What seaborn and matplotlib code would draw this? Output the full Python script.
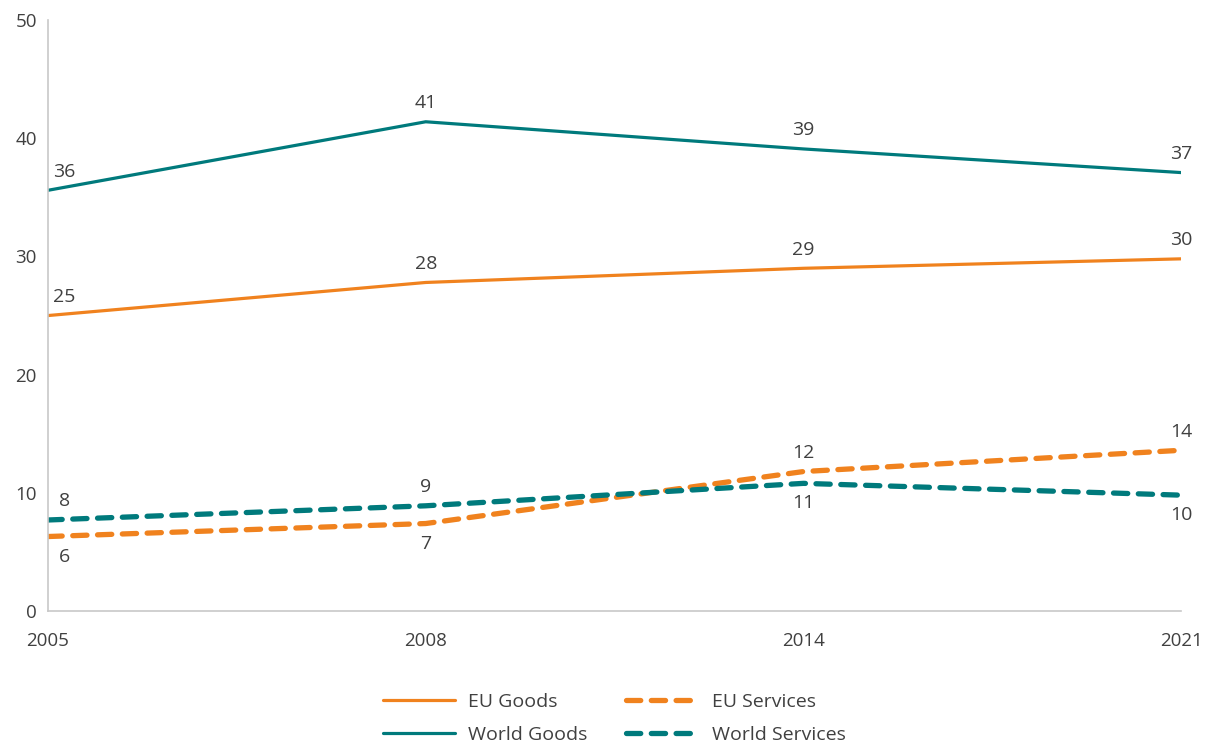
import pandas as pd
import matplotlib.pyplot as plt
import seaborn as sns

# data
years = ['2005', '2008', '2014', '2021']
eu_goods = [25.0, 27.8, 29.0, 29.8]
world_goods = [35.6, 41.4, 39.1, 37.1]
eu_services = [6.3, 7.4, 11.8, 13.6]
world_services = [7.7, 8.9, 10.8, 9.8]

series_names = ['EU Goods', 'EU Services', 'World Goods', 'World Services']
series_vals = [eu_goods, eu_services, world_goods, world_services]

rows = []
for name, vals in zip(series_names, series_vals):
    for i, (yr, v) in enumerate(zip(years, vals)):
        rows.append({'pos': i, 'year': yr, 'series': name, 'value': v})
df = pd.DataFrame(rows)

orange = '#F0821E'
teal = '#007A7C'
palette = {'EU Goods': orange, 'EU Services': orange,
           'World Goods': teal, 'World Services': teal}
styles = {'EU Goods': '', 'EU Services': (2.7, 2.0),
          'World Goods': '', 'World Services': (2.7, 2.0)}
widths = {'EU Goods': 2.3, 'EU Services': 3.8,
          'World Goods': 2.3, 'World Services': 3.8}

sns.set_style('white')
plt.rcParams['font.family'] = ['Open Sans', 'DejaVu Sans']
text_col = '#404040'

fig = plt.figure(figsize=(12.14, 7.46), dpi=100)
ax = fig.add_axes([0.0395, 0.181, 0.9335, 0.792])

handles = {}
for name in series_names:
    sub = df[df['series'] == name]
    sns.lineplot(data=sub, x='pos', y='value', color=palette[name],
                 linewidth=widths[name], ax=ax, label=name)
    line = ax.lines[-1]
    if styles[name]:
        line.set_dashes(styles[name])
        line.set_dash_capstyle('round')
    handles[name] = line

# data labels: above or below the point
below = {'EU Services': [True, True, False, False],
         'World Services': [False, False, True, True]}
for name, vals in zip(series_names, series_vals):
    for i, v in enumerate(vals):
        is_below = below.get(name, [False] * 4)[i]
        dx = 12 if i == 0 else 0
        dy = -8 if is_below else 7
        ax.annotate(f'{round(v):.0f}', (i, v), xytext=(dx, dy),
                    textcoords='offset points', ha='center',
                    va='top' if is_below else 'bottom',
                    fontsize=14, color=text_col)

ax.set_xlim(0, 3)
ax.set_ylim(0, 50)
ax.set_xticks(range(len(years)))
ax.set_xticklabels(years)
ax.set_yticks(range(0, 51, 10))
ax.set_xlabel('')
ax.set_ylabel('')
ax.tick_params(axis='both', labelsize=13.5, colors=text_col, length=0)
ax.tick_params(axis='x', pad=15)
ax.tick_params(axis='y', pad=8)
for s in ['top', 'right']:
    ax.spines[s].set_visible(False)
for s in ['left', 'bottom']:
    ax.spines[s].set_color('#c8c8c8')
    ax.spines[s].set_linewidth(1.2)

ax.get_legend().remove()
order = ['EU Goods', 'World Goods', 'EU Services', 'World Services']
leg = fig.legend([handles[n] for n in order], order,
                 loc='center', bbox_to_anchor=(0.506, 0.037), ncol=2,
                 frameon=False, fontsize=14, handlelength=3.7,
                 columnspacing=2.0, labelspacing=0.75, handletextpad=0.7)
for t in leg.get_texts():
    t.set_color(text_col)
for lh in leg.get_lines():
    lh.set_dash_capstyle('round')

fig.savefig('out.png', dpi=100)
